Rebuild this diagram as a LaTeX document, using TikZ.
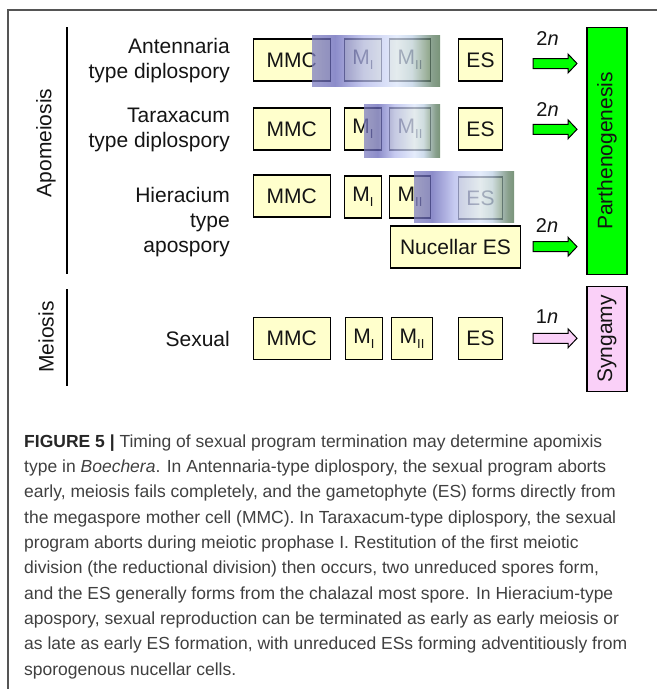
\documentclass[tikz,border=0pt]{standalone}
\usepackage{fontspec}
\setmainfont{Liberation Sans}
\definecolor{boxyellow}{HTML}{FFFFCC}
\definecolor{pgreen}{HTML}{00FF00}
\definecolor{spink}{HTML}{FAD0F8}
\definecolor{captxt}{HTML}{404040}
\definecolor{labtxt}{HTML}{141414}
\definecolor{framegray}{HTML}{555555}
\pgfdeclarehorizontalshading{veil}{100bp}{rgb(0bp)=(0.5,0.5,0.76); rgb(25bp)=(0.5,0.5,0.76); rgb(34bp)=(0.4,0.4,0.72); rgb(45bp)=(0.7,0.72,0.92); rgb(58bp)=(0.86,0.9,0.98); rgb(64bp)=(0.75,0.82,0.9); rgb(72bp)=(0.38,0.5,0.4); rgb(75bp)=(0.3,0.44,0.3); rgb(100bp)=(0.3,0.44,0.3)}
\newcommand\msub[1]{\raisebox{-0.22em}{\fontsize{13}{13}\selectfont #1}}
\tikzset{
  cell/.style={draw=black, fill=boxyellow, line width=1.6pt, minimum height=42pt, inner sep=0pt, text=labtxt, font=\fontsize{21}{21}\selectfont},
  wmmc/.style={minimum width=77pt},
  wmi/.style={minimum width=37pt},
  wmii/.style={minimum width=41pt},
  wes/.style={minimum width=44pt},
  rowlab/.style={anchor=east, align=right, inner sep=0pt, text=labtxt, font=\fontsize{21}{25}\selectfont},
  sidelab/.style={rotate=90, inner sep=0pt, text=labtxt, font=\fontsize{21}{21}\selectfont},
  nlab/.style={anchor=base, inner sep=0pt, text=labtxt, font=\fontsize{20}{20}\selectfont},
  capline/.style={anchor=base west, inner sep=0pt, text=captxt, font=\fontsize{17.5}{20}\selectfont},
  veilbox/.style={shading=veil, opacity=0.75},
  blockarrow/.pic={\draw[pic actions] (0,-5) -- (35,-5) -- (35,-9.5) -- (44,0) -- (35,9.5) -- (35,5) -- (0,5) -- cycle;},
  outcome/.style={draw=black, line width=1.6pt, inner sep=0pt, minimum width=40pt}
}
\begin{document}
\begin{tikzpicture}[x=1pt, y=-1pt]
\useasboundingbox (0,0) rectangle (657,689);
% frame
\draw[framegray, line width=1.2pt] (8,689) -- (8,10) -- (657,10);
% group lines
\coordinate (apoTop) at (67,27);
\coordinate (apoBot) at (67,274);
\coordinate (meiTop) at (67,289);
\coordinate (meiBot) at (67,386);
\draw[line width=1.5pt] (apoTop) -- (apoBot);
\draw[line width=1.5pt] (meiTop) -- (meiBot);
\node[sidelab] (apo) at (46,143) {Apomeiosis};
\node[sidelab] (mei) at (46,337) {Meiosis};
% row labels
\node[rowlab] (lab1) at (230,61) {Antennaria\\type diplospory};
\node[rowlab] (lab2) at (230,130) {Taraxacum\\type diplospory};
\node[rowlab] (lab3) at (230,222) {Hieracium\\type\\apospory};
\node[rowlab] (lab4) at (230,339) {Sexual};
% row 1
\node[cell, wmmc] (mmc1) at (291.8,60) {MMC};
\node[cell, wmi] (mi1) at (363,60) {M\msub{I}};
\node[cell, wmii] (mii1) at (410,60) {M\msub{II}};
\node[cell, wes] (es1) at (480.5,60) {ES};
\shade[veilbox] (312,35) rectangle (440,86);
% row 2
\node[cell, wmmc] (mmc2) at (291.8,129) {MMC};
\node[cell, wmi] (mi2) at (363,129) {M\msub{I}};
\node[cell, wmii] (mii2) at (410,129) {M\msub{II}};
\node[cell, wes] (es2) at (480.5,129) {ES};
\shade[veilbox] (364,104) rectangle (440,157);
% row 3
\node[cell, wmmc] (mmc3) at (291.8,196) {MMC};
\node[cell, wmi] (mi3) at (363,197) {M\msub{I}};
\node[cell, wmii] (mii3) at (410,197) {M\msub{II}};
\node[cell, wes] (es3) at (480.5,198) {ES};
\shade[veilbox] (414,171) rectangle (514,222);
\node[cell, minimum width=130pt] (nuc) at (455.5,247) {Nucellar ES};
% row 4
\node[cell, wmmc] (mmc4) at (291.8,338.5) {MMC};
\node[cell, wmi] (mi4) at (364,338.5) {M\msub{I}};
\node[cell, wmii] (mii4) at (412,338.5) {M\msub{II}};
\node[cell, wes] (es4) at (480.5,338.5) {ES};
% arrows
\pic[fill=pgreen, line width=1pt] at (533,63.5) {blockarrow};
\pic[fill=pgreen, line width=1pt] at (533,129.3) {blockarrow};
\pic[fill=pgreen, line width=1pt] at (533,246.7) {blockarrow};
\pic[fill=spink, line width=1pt] at (533,338.3) {blockarrow};
\node[nlab] (n1) at (547.5,45) {2\textit{n}};
\node[nlab] (n2) at (547.5,116) {2\textit{n}};
\node[nlab] (n3) at (547,232) {2\textit{n}};
\node[nlab] (n4) at (547,323.5) {1\textit{n}};
% outcome boxes
\node[outcome, fill=pgreen, minimum height=247pt] (parth) at (607,151) {};
\node[sidelab] (parthlab) at (607,151) {Parthenogenesis};
\node[outcome, fill=spink, minimum height=105pt] (syn) at (607,339) {};
\node[sidelab] (synlab) at (607,339) {Syngamy};
% caption
\node[capline] (c1) at (24,447.3) {\textbf{\color{black!85}FIGURE 5 |} Timing of sexual program termination may determine apomixis};
\node[capline] (c2) at (24,472.6) {type in \textit{Boechera}. In Antennaria-type diplospory, the sexual program aborts};
\node[capline] (c3) at (24,497.9) {early, meiosis fails completely, and the gametophyte (ES) forms directly from};
\node[capline] (c4) at (24,523.2) {the megaspore mother cell (MMC). In Taraxacum-type diplospory, the sexual};
\node[capline] (c5) at (24,548.5) {program aborts during meiotic prophase I. Restitution of the first meiotic};
\node[capline] (c6) at (24,573.8) {division (the reductional division) then occurs, two unreduced spores form,};
\node[capline] (c7) at (24,599.1) {and the ES generally forms from the chalazal most spore. In Hieracium-type};
\node[capline] (c8) at (24,624.4) {apospory, sexual reproduction can be terminated as early as early meiosis or};
\node[capline] (c9) at (24,649.7) {as late as early ES formation, with unreduced ESs forming adventitiously from};
\node[capline] (c10) at (24,675) {sporogenous nucellar cells.};
\end{tikzpicture}
\end{document}
